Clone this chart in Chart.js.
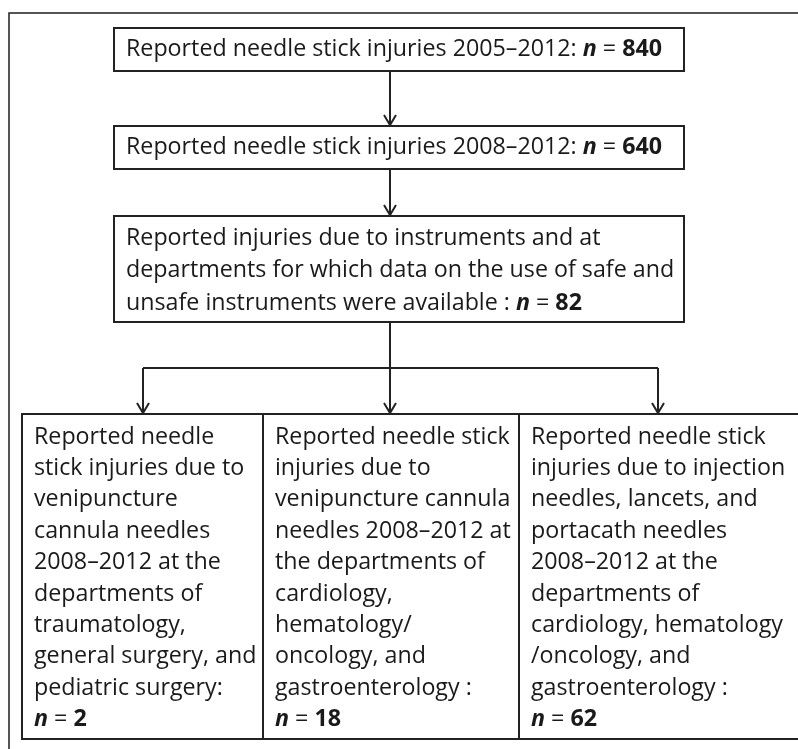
<!DOCTYPE html>
<html>
<head>
<meta charset="utf-8">
<script src="https://cdn.jsdelivr.net/npm/chart.js@4.4.0/dist/chart.umd.min.js"></script>
<style>
  html, body { margin: 0; padding: 0; background: #fff; }
  #wrap { width: 798px; height: 749px; position: relative; }
</style>
</head>
<body>
<div id="wrap"><canvas id="flowChart"></canvas></div>
<script>
// stage texts, already broken into lines like the figure
const stageLines = [
    ['Reported needle stick injuries 2005–2012: '],
    ['Reported needle stick injuries 2008–2012: '],
    ['Reported injuries due to instruments and at',
     'departments for which data on the use of safe and',
     'unsafe instruments were available : '],
    ['Reported needle', 'stick injuries due to', 'venipuncture', 'cannula needles',
     '2008–2012 at the', 'departments of', 'traumatology,', 'general surgery, and',
     'pediatric surgery:', ''],
    ['Reported needle stick', 'injuries due to', 'venipuncture cannula', 'needles 2008–2012 at',
     'the departments of', 'cardiology,', 'hematology/', 'oncology, and',
     'gastroenterology :', ''],
    ['Reported needle stick', 'injuries due to injection', 'needles, lancets, and', 'portacath needles',
     '2008–2012 at the', 'departments of', 'cardiology, hematology', '/oncology, and',
     'gastroenterology :', '']
];
const stageCounts = [840, 640, 82, 2, 18, 62];

// layout (pixels in the 798 x 749 figure)
const frameBox = { x0: 9, y0: 13, x1: 820, y1: 770 };
const boxes = [
    { x0: 114, y0: 28, x1: 684, y1: 71, ty: 49.5, lh: 32 },
    { x0: 114, y0: 126, x1: 684, y1: 169, ty: 147.5, lh: 32 },
    { x0: 114, y0: 216, x1: 684, y1: 322, ty: 238, lh: 32.5 },
    { x0: 22, y0: 414, x1: 263, y1: 739, ty: 437, lh: 31.4 },
    { x0: 263, y0: 414, x1: 519, y1: 739, ty: 437, lh: 31.4 },
    { x0: 519, y0: 414, x1: 820, y1: 739, ty: 437, lh: 31.4 }
];
const stemX = 390;
const branchY = 368;
const branchX = [143, 390, 658];

const FONT = '"Open Sans", "Lato", sans-serif';
const FSIZE = 23;

const flowPlugin = {
    id: 'flow',
    afterDraw(chart) {
        const ctx = chart.ctx;
        const sx = chart.scales.x, sy = chart.scales.y;
        const px = v => sx.getPixelForValue(v);
        const py = v => sy.getPixelForValue(v);

        ctx.save();
        // outer frame
        ctx.strokeStyle = '#1e1e1e';
        ctx.lineWidth = 1.5;
        ctx.strokeRect(px(frameBox.x0), py(frameBox.y0), px(frameBox.x1) - px(frameBox.x0), py(frameBox.y1) - py(frameBox.y0));

        // boxes
        ctx.lineWidth = 2;
        ctx.strokeStyle = '#222';
        boxes.forEach(b => {
            ctx.strokeRect(px(b.x0), py(b.y0), px(b.x1) - px(b.x0), py(b.y1) - py(b.y0));
        });

        const line = (x0, y0, x1, y1) => {
            ctx.beginPath();
            ctx.moveTo(px(x0), py(y0));
            ctx.lineTo(px(x1), py(y1));
            ctx.stroke();
        };
        const arrow = (x, y0, y1) => {
            line(x, y0, x, y1 - 1);
            ctx.beginPath();
            ctx.moveTo(px(x - 6), py(y1 - 11));
            ctx.lineTo(px(x), py(y1 - 1));
            ctx.lineTo(px(x + 6), py(y1 - 11));
            ctx.stroke();
        };
        arrow(stemX, boxes[0].y1, boxes[1].y0);
        arrow(stemX, boxes[1].y1, boxes[2].y0);
        line(stemX, boxes[2].y1, stemX, branchY);
        line(branchX[0], branchY, branchX[2], branchY);
        branchX.forEach(x => arrow(x, branchY, boxes[3].y0));

        // text
        const reg = `${FSIZE}px ${FONT}`;
        const segsFor = (txt, n) => [
            { t: txt, f: reg },
            { t: 'n', f: `italic bold ${FSIZE}px ${FONT}` },
            { t: ' = ', f: reg },
            { t: String(n), f: `bold ${FSIZE}px ${FONT}` }
        ];
        const measure = segs => segs.reduce((w, s) => { ctx.font = s.f; return w + ctx.measureText(s.t).width; }, 0);
        // horizontal squeeze so the first line spans like the figure
        const squeeze = 536 / measure(segsFor(stageLines[0][0], stageCounts[0]));

        ctx.fillStyle = '#1a1a1a';
        ctx.textBaseline = 'middle';
        ctx.textAlign = 'left';
        stageLines.forEach((lines, i) => {
            const b = boxes[i];
            lines.forEach((txt, j) => {
                const last = j === lines.length - 1;
                const segs = last ? segsFor(txt, stageCounts[i]) : [{ t: txt, f: reg }];
                const y = py(b.ty + j * b.lh);
                ctx.save();
                ctx.translate(px(b.x0 + 12), y);
                ctx.scale(squeeze, 1);
                let x = 0;
                segs.forEach(s => {
                    ctx.font = s.f;
                    ctx.fillText(s.t, x, 0);
                    x += ctx.measureText(s.t).width;
                });
                ctx.restore();
            });
        });
        ctx.restore();
    }
};

new Chart(document.getElementById('flowChart').getContext('2d'), {
    type: 'scatter',
    data: { datasets: [{ data: [], pointRadius: 0 }] },
    options: {
        responsive: true,
        maintainAspectRatio: false,
        animation: false,
        layout: { padding: 0 },
        plugins: { legend: { display: false }, tooltip: { enabled: false } },
        scales: {
            x: { type: 'linear', min: 0, max: 798, display: false },
            y: { type: 'linear', min: 0, max: 749, reverse: true, display: false }
        }
    },
    plugins: [flowPlugin]
});
</script>
</body>
</html>
